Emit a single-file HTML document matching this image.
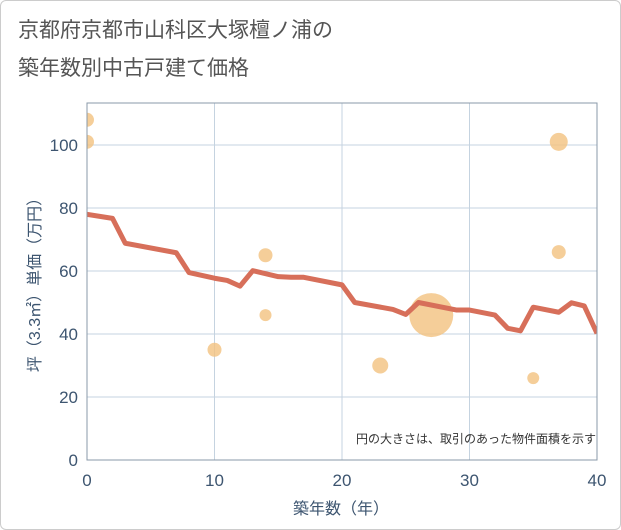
<!DOCTYPE html>
<html><head><meta charset="utf-8"><style>
body{margin:0;background:#fff;font-family:"Liberation Sans","Noto Sans CJK JP",sans-serif;}
#wrap{position:relative;width:619px;height:528px;border:1px solid #ccc;border-radius:6px;overflow:hidden;background:#fff}
#chart{position:absolute;left:-1px;top:-1px}
</style></head><body>
<div id="wrap">
<svg id="chart" width="621" height="530">
<defs><clipPath id="plotclip"><rect x="87" y="103" width="510" height="357"/></clipPath></defs>
<text x="18" y="37" font-size="21" fill="#555" font-family="Liberation Sans, Noto Sans CJK JP, sans-serif">京都府京都市山科区大塚檀ノ浦の</text>
<text x="18" y="75" font-size="21" fill="#555" font-family="Liberation Sans, Noto Sans CJK JP, sans-serif">築年数別中古戸建て価格</text>
<g id="grid"></g><g id="marks" clip-path="url(#plotclip)"></g><g id="axes"></g>
<text x="596" y="443" font-size="12" fill="#333" text-anchor="end" font-family="Liberation Sans, Noto Sans CJK JP, sans-serif">円の大きさは、取引のあった物件面積を示す</text>
<text x="341" y="514" font-size="16" fill="#3d5570" text-anchor="middle" font-family="Liberation Sans, Noto Sans CJK JP, sans-serif">築年数（年）</text>
<text transform="translate(40,281) rotate(-90)" font-size="16" fill="#3d5570" text-anchor="middle" font-family="Liberation Sans, Noto Sans CJK JP, sans-serif">坪（3.3㎡）単価（万円）</text>
</svg></div>
<script>
const xTicks=[0,10,20,30,40];
const yTicks=[0,20,40,60,80,100];
const lineYears=[0,2,3,7,8,10,11,12,13,15,16,17,20,21,24,25,26,29,30,32,33,34,35,37,38,39,40];
const linePrices=[78,76.7,68.8,65.8,59.5,57.7,57,55.2,60.1,58.2,58,58,55.6,50,47.8,46.2,50,47.6,47.6,46,41.8,41,48.5,46.9,49.9,48.9,40.2];
const dotYears=[0,0,10,14,14,23,27,35,37,37];
const dotPrices=[108,101,35,65,46,30,46,26,101,66];
const dotRadii=[7,7,7,7,6,8,22,6,9,7];
const X0=87,X1=597,Y0=460,Ytop=103;
const sx=v=>X0+(X1-X0)*v/40;
const sy=v=>Y0-(Y0-145)*v/100;
const NS="http://www.w3.org/2000/svg";
function mk(t,a,p){const e=document.createElementNS(NS,t);for(const k in a)e.setAttribute(k,a[k]);p.appendChild(e);return e;}
const g=document.getElementById('grid'),m=document.getElementById('marks'),ax=document.getElementById('axes');
xTicks.forEach(t=>{const l=mk('line',{x1:sx(t),x2:sx(t),y1:Ytop,y2:Y0,stroke:'#c5d3e0'},g);


const tx=mk('text',{x:sx(t),y:486,'font-size':17,fill:'#3d5570','text-anchor':'middle'},ax);tx.textContent=t;

});
yTicks.forEach(t=>{const l=mk('line',{x1:X0,x2:X1,y1:sy(t),y2:sy(t),stroke:'#c5d3e0'},g);


const tx=mk('text',{x:78,y:sy(t)+6,'font-size':17,fill:'#3d5570','text-anchor':'end'},ax);tx.textContent=t;

});
const fr=mk('rect',{x:X0,y:Ytop,width:X1-X0,height:Y0-Ytop,fill:'none',stroke:'#8a99a8'},ax);


dotYears.forEach((yr,i)=>{const c=mk('circle',{cx:sx(yr),cy:sy(dotPrices[i]),r:dotRadii[i],fill:'#f3c27f','fill-opacity':0.8},m);

});
const pl=mk('polyline',{points:lineYears.map((yr,i)=>sx(yr)+','+sy(linePrices[i])).join(' '),fill:'none',stroke:'#d76f5a','stroke-width':5,'stroke-linejoin':'round'},m);


</script>
</body></html>
